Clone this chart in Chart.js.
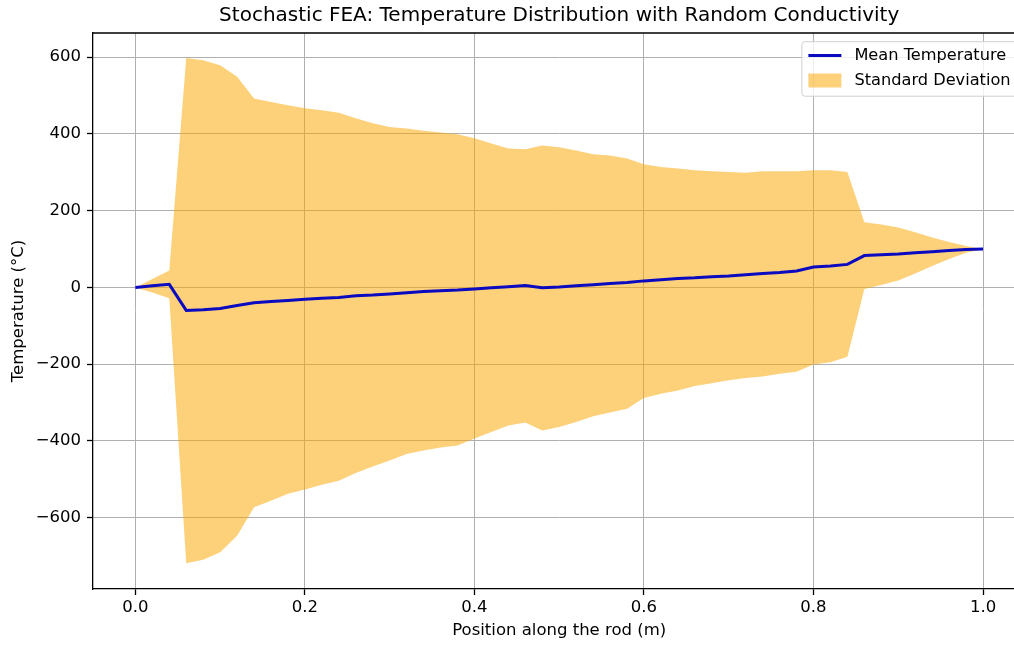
<!DOCTYPE html>
<html>
<head>
<meta charset="utf-8">
<script src="https://cdn.jsdelivr.net/npm/chart.js@4"></script>
<style>
  html, body { margin: 0; padding: 0; background: #fff; overflow: hidden; }
  #wrap { width: 1040px; height: 645px; }
</style>
</head>
<body>
<div id="wrap"><canvas id="chart" width="1040" height="645"></canvas></div>
<script>
const positions = [
    0.00, 0.02, 0.04, 0.06, 0.08, 0.10, 0.12, 0.14, 0.16, 0.18,
    0.20, 0.22, 0.24, 0.26, 0.28, 0.30, 0.32, 0.34, 0.36, 0.38,
    0.40, 0.42, 0.44, 0.46, 0.48, 0.50, 0.52, 0.54, 0.56, 0.58,
    0.60, 0.62, 0.64, 0.66, 0.68, 0.70, 0.72, 0.74, 0.76, 0.78,
    0.80, 0.82, 0.84, 0.86, 0.88, 0.90, 0.92, 0.94, 0.96, 0.98, 1.00
];
const meanTemp = [
    0, 4, 8, -60, -58, -55, -47, -40, -37, -34,
    -31, -28, -26, -22, -20, -17, -14, -11, -9, -7,
    -4, -1, 2, 5, -1, 1, 4, 7, 10, 13,
    17, 20, 23, 25, 28, 30, 33, 36, 39, 43,
    53, 56, 60, 83, 85, 87, 90, 93, 96, 99, 100
];
const upperBand = [
    0, 22, 44, 598, 592, 579, 549, 492, 483, 475,
    467, 462, 455, 441, 428, 418, 414, 408, 404, 399,
    389, 375, 362, 360, 370, 365, 357, 347, 344, 336,
    321, 314, 310, 305, 303, 301, 299, 303, 303, 303,
    305, 305, 301, 170, 164, 156, 144, 130, 118, 108, 100
];
const lowerBand = [
    0, -13, -28, -719, -710, -690, -647, -573, -556, -538,
    -527, -514, -504, -484, -467, -451, -434, -425, -417, -412,
    -394, -377, -360, -352, -373, -364, -351, -336, -326, -316,
    -288, -277, -269, -257, -250, -242, -236, -232, -225, -220,
    -201, -195, -181, -4, 6, 18, 36, 56, 74, 90, 100
];
const xTicks = [0.0, 0.2, 0.4, 0.6, 0.8, 1.0];
const yTicks = [-600, -400, -200, 0, 200, 400, 600];

const TITLE = "Stochastic FEA: Temperature Distribution with Random Conductivity";
const LINE_COLOR = "#0a0ac0";
const FILL_COLOR = "rgba(252, 165, 0, 0.52)";
const FONT = "DejaVu Sans";
const FS = 16.5;
const LEGEND_FS = 16.2;

Chart.defaults.font.family = FONT;
Chart.defaults.color = "#000";

function points(values) {
    return positions.map((x, i) => ({ x: x, y: values[i] }));
}

function fmtY(v) {
    return v < 0 ? "\u2212" + Math.abs(v) : String(v);
}

// title, top spine and legend box drawn straight on the canvas
const decor = {
    id: "decor",
    afterDraw(chart) {
        const { ctx, chartArea } = chart;
        ctx.save();

        ctx.strokeStyle = "#000";
        ctx.lineWidth = 1.3;
        ctx.beginPath();
        ctx.moveTo(chartArea.left, chartArea.top);
        ctx.lineTo(chartArea.right, chartArea.top);
        ctx.lineTo(chartArea.right, chartArea.bottom);
        ctx.stroke();

        ctx.fillStyle = "#000";
        ctx.font = "20px " + FONT;
        ctx.textAlign = "center";
        ctx.textBaseline = "middle";
        ctx.fillText(TITLE, (chartArea.left + chartArea.right) / 2, 16);

        // legend
        const ds = chart.data.datasets;
        ctx.font = LEGEND_FS + "px " + FONT;
        const textW = Math.max(ctx.measureText(ds[0].label).width, ctx.measureText(ds[1].label).width);
        const pad = 6.5, handle = 33, gap = 13;
        const w = pad + handle + gap + textW + pad;
        const h = 54.5;
        const right = chartArea.right - 8.3;
        const top = chartArea.top + 8.7;
        const left = right - w;

        ctx.beginPath();
        ctx.roundRect(left, top, w, h, 3);
        ctx.fillStyle = "rgba(255,255,255,0.8)";
        ctx.fill();
        ctx.strokeStyle = "#d0d0d0";
        ctx.lineWidth = 1;
        ctx.stroke();

        const row1 = top + 13.8, row2 = top + 38.8;
        ctx.strokeStyle = ds[0].borderColor;
        ctx.lineWidth = 3;
        ctx.beginPath();
        ctx.moveTo(left + pad, row1);
        ctx.lineTo(left + pad + handle, row1);
        ctx.stroke();

        ctx.fillStyle = ds[1].backgroundColor;
        ctx.fillRect(left + pad, row2 - 7, handle, 14);

        ctx.fillStyle = "#000";
        ctx.textAlign = "left";
        ctx.fillText(ds[0].label, left + pad + handle + gap, row1);
        ctx.fillText(ds[1].label, left + pad + handle + gap, row2);

        ctx.restore();
    }
};

new Chart(document.getElementById("chart"), {
    type: "line",
    data: {
        datasets: [
            {
                label: "Mean Temperature",
                data: points(meanTemp),
                borderColor: LINE_COLOR,
                borderWidth: 3,
                pointRadius: 0,
                fill: false,
                order: 0,
            },
            {
                label: "Standard Deviation",
                data: points(upperBand),
                borderColor: "rgba(0,0,0,0)",
                backgroundColor: FILL_COLOR,
                borderWidth: 0,
                pointRadius: 0,
                fill: 2,
                order: 1,
            },
            {
                label: "lower",
                data: points(lowerBand),
                borderColor: "rgba(0,0,0,0)",
                borderWidth: 0,
                pointRadius: 0,
                fill: false,
                order: 2,
            },
        ],
    },
    options: {
        responsive: false,
        animation: false,
        events: [],
        layout: { padding: { left: 0, right: 14.6, top: 33, bottom: 0 } },
        plugins: {
            legend: { display: false },
            title: { display: false },
            tooltip: { enabled: false },
        },
        scales: {
            x: {
                type: "linear",
                min: -0.05,
                max: 1.05,
                afterBuildTicks: (scale) => { scale.ticks = xTicks.map((v) => ({ value: v })); },
                afterFit: (scale) => { scale.height = 56; },
                ticks: {
                    font: { size: FS },
                    color: "#000",
                    padding: 3,
                    maxRotation: 0,
                    autoSkip: false,
                    callback: (v) => v.toFixed(1),
                },
                grid: { color: "#b0b0b0", lineWidth: 1, tickLength: 6, tickColor: "#000", tickWidth: 1.3 },
                border: { display: true, color: "#000", width: 1.3 },
                title: {
                    display: true,
                    text: "Position along the rod (m)",
                    font: { size: FS },
                    color: "#000",
                    padding: { top: 0, bottom: 4 },
                },
            },
            y: {
                type: "linear",
                min: -786,
                max: 663,
                afterBuildTicks: (scale) => { scale.ticks = yTicks.map((v) => ({ value: v })); },
                afterFit: (scale) => { scale.width = 93; },
                ticks: {
                    font: { size: FS },
                    color: "#000",
                    padding: 6,
                    autoSkip: false,
                    callback: (v) => fmtY(v),
                },
                grid: { color: "#b0b0b0", lineWidth: 1, tickLength: 6, tickColor: "#000", tickWidth: 1.3 },
                border: { display: true, color: "#000", width: 1.3 },
                title: {
                    display: true,
                    text: "Temperature (°C)",
                    font: { size: FS },
                    color: "#000",
                    padding: { top: 9, bottom: 0 },
                },
            },
        },
    },
    plugins: [decor],
});
</script>
</body>
</html>
